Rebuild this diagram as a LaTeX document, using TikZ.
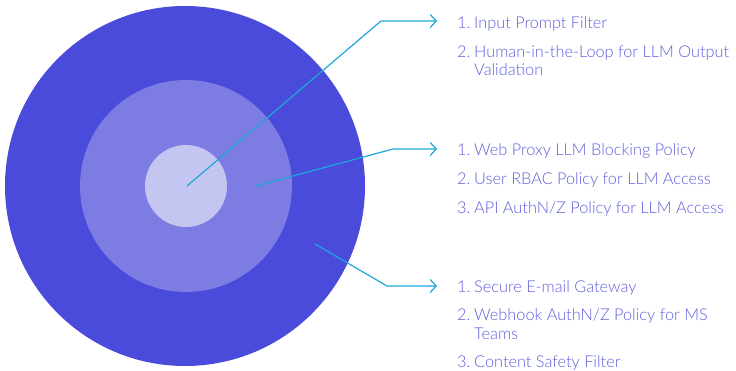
\documentclass[tikz,border=0pt]{standalone}
\usepackage{fontspec}
\setmainfont{Lato Light}
\usetikzlibrary{arrows.meta}
\definecolor{ringout}{HTML}{4B4BDB}
\definecolor{ringmid}{HTML}{7C7CE2}
\definecolor{ringin}{HTML}{C5C5F2}
\definecolor{leader}{HTML}{1BA8D8}
\definecolor{itemtxt}{HTML}{5E5EDD}
\tikzset{
  leaderline/.style={leader, line width=1.2pt, -{Straight Barb[length=6pt,width=13pt,line width=1.2pt]}},
  num/.style={anchor=base west, text=itemtxt, font=\fontsize{16.3}{18.3}\selectfont, inner sep=0pt},
  item/.style={anchor=base west, text=itemtxt, font=\fontsize{16.3}{18.3}\selectfont, inner sep=0pt, align=left},
}
\begin{document}
\begin{tikzpicture}[x=1pt,y=-1pt]
\useasboundingbox (0,0) rectangle (736,371);
% concentric rings
\fill[ringout] (185,186) circle (180);
\fill[ringmid] (186,186) circle (106);
\fill[ringin] (186,186) circle (41);

% leader anchors
\coordinate (c1) at (187,186);
\coordinate (b1) at (381,21);
\coordinate (t1) at (437,21);
\coordinate (c2) at (256,186);
\coordinate (b2) at (393,149);
\coordinate (t2) at (437,149);
\coordinate (c3) at (315,244);
\coordinate (b3) at (387,286);
\coordinate (t3) at (437,286);
\draw[leaderline] (c1) -- (b1) -- (t1);
\draw[leaderline] (c2) -- (b2) -- (t2);
\draw[leaderline] (c3) -- (b3) -- (t3);

% inner ring items (two-line nodes sit on their last baseline)
\node[num] (n11) at (457,28.3) {1.};
\node[item] (i11) at (474,28.3) {Input Prompt Filter};
\node[num] (n12) at (457,57.7) {2.};
\node[item] (i12) at (474,75.9) {Human-in-the-Loop for LLM Output\\Validation};

% middle ring items
\node[num] (n21) at (457,156) {1.};
\node[item] (i21) at (474,156) {Web Proxy LLM Blocking Policy};
\node[num] (n22) at (457,185) {2.};
\node[item] (i22) at (474,185) {User RBAC Policy for LLM Access};
\node[num] (n23) at (457,213.3) {3.};
\node[item] (i23) at (474,213.3) {API AuthN/Z Policy for LLM Access};

% outer ring items
\node[num] (n31) at (457,292.3) {1.};
\node[item] (i31) at (474,292.3) {Secure E-mail Gateway};
\node[num] (n32) at (457,320.7) {2.};
\node[item] (i32) at (474,339) {Webhook AuthN/Z Policy for MS\\Teams};
\node[num] (n33) at (457,367.7) {3.};
\node[item] (i33) at (474,367.7) {Content Safety Filter};
\end{tikzpicture}
\end{document}
